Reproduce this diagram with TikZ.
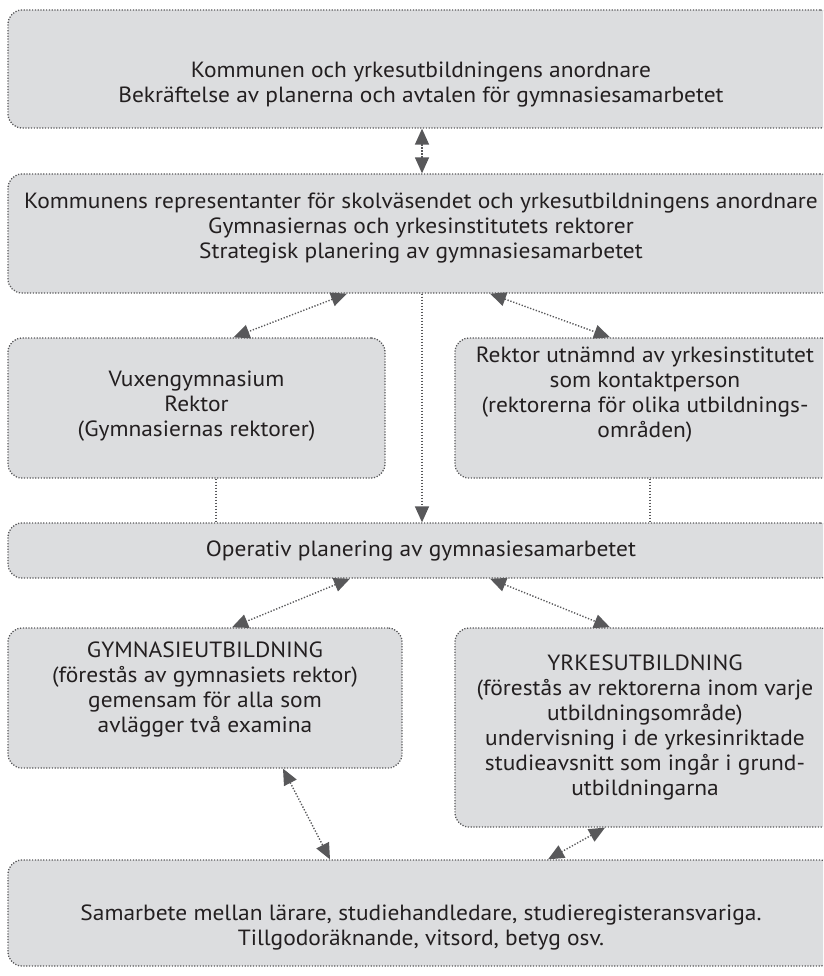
\documentclass[tikz,border=0pt]{standalone}
\usepackage{fontspec}
\setmainfont{PT Sans}[FakeStretch=1.065]
\usetikzlibrary{arrows.meta}
\definecolor{boxgray}{HTML}{DCDDDF}
\definecolor{linegray}{HTML}{58585A}
\definecolor{txtgray}{HTML}{231F20}
\tikzset{
  box/.style={draw=linegray,fill=boxgray,rounded corners=14pt,line width=1.3pt,
    dash pattern=on 1.2pt off 1.6pt,inner sep=0pt},
  txt/.style={align=center,text=txtgray,inner sep=0pt,
    font=\fontsize{22}{25}\selectfont},
  con/.style={draw=linegray,line width=1.4pt,dash pattern=on 1.3pt off 1.7pt},
  oneway/.style={-{Triangle[length=16pt,width=14pt]}},
  twoway/.style={{Triangle[length=16pt,width=14pt]}-{Triangle[length=16pt,width=14pt]}}
}

\begin{document}
\begin{tikzpicture}[x=1pt,y=-1pt]
  \useasboundingbox (0,0) rectangle (823,976);
  \clip (0,0) rectangle (823,976);
  % boxes
  \node[box,minimum width=826pt,minimum height=118pt] (b1) at (421,69) {};
  \node[box,minimum width=826pt,minimum height=119pt] (b2) at (421,233.5) {};
  \node[box,minimum width=377pt,minimum height=140pt] (vux) at (196.5,408) {};
  \node[box,minimum width=380pt,minimum height=140pt] (rek) at (645,408) {};
  \node[box,minimum width=826pt,minimum height=55pt] (op) at (421,550.5) {};
  \node[box,minimum width=394pt,minimum height=140pt] (gym) at (205,698) {};
  \node[box,minimum width=380pt,minimum height=199pt] (yrk) at (645,727.5) {};
  \node[box,minimum width=826pt,minimum height=106pt] (bot) at (421,913) {};
  % texts
  \node[txt] (t1) at (421,84.5) {Kommunen och yrkesutbildningens anordnare\\
    Bekräftelse av planerna och avtalen för gymnasiesamarbetet};
  \node[txt] (t2) at (421,228) {Kommunens representanter för skolväsendet och yrkesutbildningens anordnare\\
    Gymnasiernas och yrkesinstitutets rektorer\\
    Strategisk planering av gymnasiesamarbetet};
  \node[txt] (tvux) at (196.5,406) {Vuxengymnasium\\Rektor\\(Gymnasiernas rektorer)};
  \node[txt] (trek) at (645,394.5) {Rektor utnämnd av yrkesinstitutet\\som kontaktperson\\
    (rektorerna för olika utbildnings-\\områden)};
  \node[txt] (top) at (421,551) {Operativ planering av gymnasiesamarbetet};
  \node[txt] (tgym) at (205,689.5) {GYMNASIEUTBILDNING\\(förestås av gymnasiets rektor)\\
    gemensam för alla som\\avlägger två examina};
  \node[txt] (tyrk) at (645,727) {YRKESUTBILDNING\\(förestås av rektorerna inom varje\\
    utbildningsområde)\\undervisning i de yrkesinriktade\\studieavsnitt som ingår i grund-\\utbildningarna};
  \node[txt] (tbot) at (421,927.5) {Samarbete mellan lärare, studiehandledare, studieregisteransvariga.\\
    Tillgodoräknande, vitsord, betyg osv.};
  % connectors
  \draw[con,twoway] ([xshift=1pt]b1.south) -- ([xshift=1pt]b2.north);
  \draw[con,twoway] ([xshift=-74pt]b2.south) -- ([xshift=37pt]vux.north);
  \draw[con,twoway] ([xshift=69pt]b2.south) -- ([xshift=-35pt]rek.north);
  \draw[con,oneway] ([xshift=1pt]b2.south) -- ([xshift=1pt]op.north);
  \draw[con] ([xshift=19.5pt]vux.south) -- ([xshift=19.5pt]vux.south |- op.north);
  \draw[con] ([xshift=5pt]rek.south) -- ([xshift=5pt]rek.south |- op.north);
  \draw[con,twoway] ([xshift=-71pt]op.south) -- ([xshift=27pt]gym.north);
  \draw[con,twoway] ([xshift=69pt]op.south) -- ([xshift=-35pt]yrk.north);
  \draw[con,twoway] ([xshift=78pt]gym.south) -- ([xshift=-91pt]bot.north);
  \draw[con,twoway] ([xshift=-40pt]yrk.south) -- ([xshift=127pt]bot.north);
\end{tikzpicture}
\end{document}
